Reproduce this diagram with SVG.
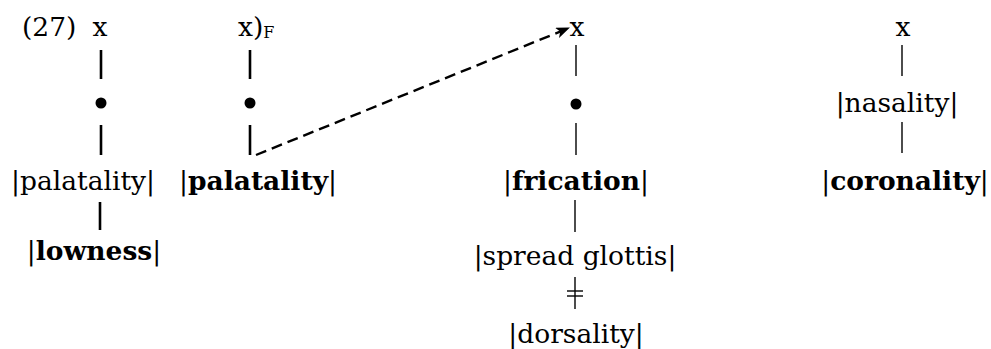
<svg xmlns="http://www.w3.org/2000/svg" width="991" height="349" viewBox="0 0 991 349">
<style>
text{font-family:"DejaVu Serif","Liberation Serif",serif;font-size:26.5px;fill:#000}
.m{text-anchor:middle}
.b{font-weight:bold}
.thick{stroke:#000;stroke-width:2.6}
.thin{stroke:#000;stroke-width:1.4}
</style>
<defs>
<marker id="ah" markerWidth="14" markerHeight="11" refX="13" refY="5.5" orient="auto" markerUnits="userSpaceOnUse">
<path d="M0,0 L14,5.5 L0,11 L3.5,5.5 Z" fill="#000"/>
</marker>
</defs>
<rect width="991" height="349" fill="#fff"/>
<text x="22" y="36">(27)</text>
<g id="connectors">
<line class="thick" x1="101" y1="50" x2="101" y2="79"/>
<line class="thick" x1="101" y1="125" x2="101" y2="155"/>
<line class="thick" x1="100" y1="202" x2="100" y2="230"/>
<line class="thick" x1="250" y1="50" x2="250" y2="79"/>
<line class="thick" x1="250" y1="125" x2="250" y2="155"/>
<line class="thin" x1="576" y1="45" x2="576" y2="76"/>
<line class="thin" x1="576" y1="123" x2="576" y2="155"/>
<line class="thin" x1="575" y1="200" x2="575" y2="232"/>
<line class="thin" x1="902" y1="45" x2="902" y2="76"/>
<line class="thin" x1="902" y1="122" x2="902" y2="153"/>
<g id="delink">
<line class="thin" x1="575" y1="277" x2="575" y2="309"/>
<line class="thin" x1="567" y1="291" x2="583" y2="291"/>
<line class="thin" x1="567" y1="296" x2="583" y2="296"/>
</g>
<line x1="256" y1="155" x2="569" y2="28" stroke="#000" stroke-width="2.4" stroke-dasharray="11,6" marker-end="url(#ah)"/>
</g>
<g id="c1x"><text class="m" x="100" y="36">x</text></g>
<g id="c1dot"><circle cx="101" cy="103" r="5.5"/></g>
<g id="c1pal"><text class="m" x="83" y="190">|palatality|</text></g>
<g id="c1low"><text class="m" x="94" y="260">|<tspan class="b">lowness</tspan>|</text></g>
<g id="c2x"><text x="238" y="36">x)<tspan font-size="16" dy="2">F</tspan></text></g>
<g id="c2dot"><circle cx="250" cy="103" r="5.5"/></g>
<g id="c2pal"><text class="m" x="258" y="190">|<tspan class="b">palatality</tspan>|</text></g>
<g id="c3x"><text class="m" x="577" y="36">x</text></g>
<g id="c3dot"><circle cx="576" cy="104" r="5.5"/></g>
<g id="c3fric"><text class="m" x="576" y="190">|<tspan class="b">frication</tspan>|</text></g>
<g id="c3sg"><text class="m" x="575" y="265">|spread glottis|</text></g>
<g id="c3dors"><text class="m" x="576" y="343">|dorsality|</text></g>
<g id="c4x"><text class="m" x="903" y="36">x</text></g>
<g id="c4nas"><text class="m" x="897" y="112">|nasality|</text></g>
<g id="c4cor"><text class="m" x="905" y="190">|<tspan class="b">coronality</tspan>|</text></g>
</svg>
